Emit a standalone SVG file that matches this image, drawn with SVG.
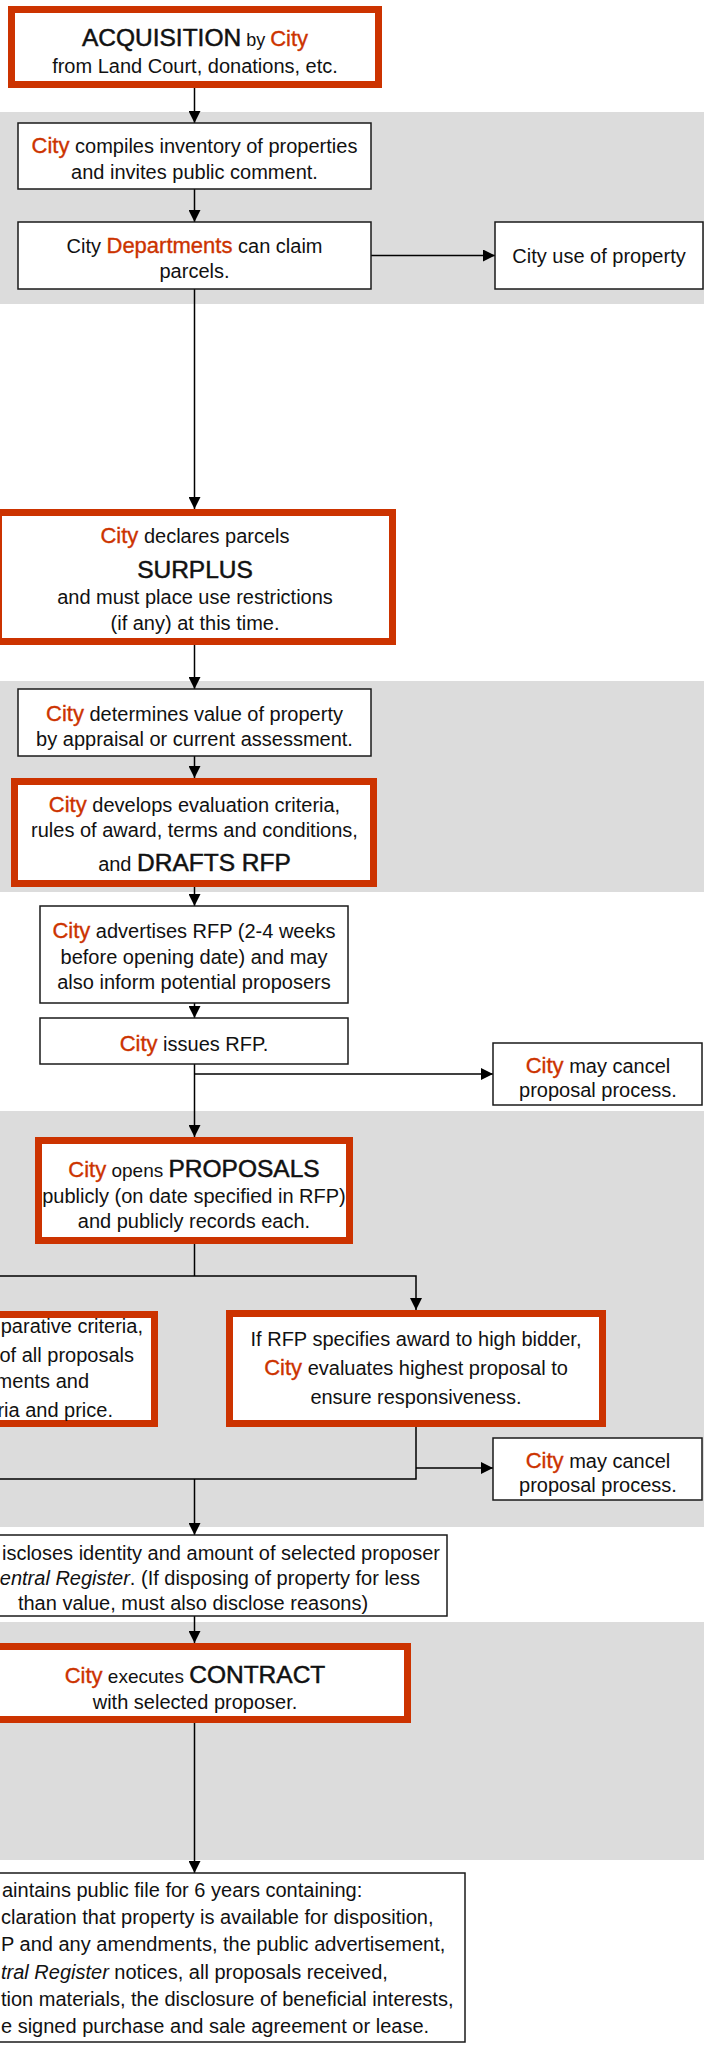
<svg xmlns="http://www.w3.org/2000/svg" width="704" height="2049" viewBox="0 0 704 2049">
<style>
.t{font-family:'Liberation Sans',Arial,sans-serif;font-size:20px;fill:#111}
.m{text-anchor:middle}
.e{text-anchor:end}
.c{fill:#cc3300;font-size:22px;stroke:#cc3300;stroke-width:0.35}
.h{font-size:24.5px;stroke:#111;stroke-width:0.5}
.i{font-style:italic}
.box{fill:#fff;stroke:#1a1a1a;stroke-width:1.5}
.rbox{fill:#fff;stroke:#cc3300;stroke-width:7}
.band{fill:#dcdcdc}
.ln{stroke:#000;stroke-width:1.5;fill:none}
</style>
<defs>
<marker id="arr" markerUnits="userSpaceOnUse" markerWidth="12" markerHeight="12" refX="12" refY="6" orient="auto">
<path d="M0,0 L12,6 L0,12 z" fill="#000"/>
</marker>
</defs>
<rect width="704" height="2049" fill="#fff"/>
<g id="bands">
<rect class="band" x="0" y="112" width="704" height="192"/>
<rect class="band" x="0" y="681" width="704" height="211"/>
<rect class="band" x="0" y="1111" width="704" height="416"/>
<rect class="band" x="0" y="1622" width="704" height="238"/>
</g>
<g id="connectors">
<path class="ln" d="M194.5,88 V123" marker-end="url(#arr)"/>
<path class="ln" d="M194.5,189 V222" marker-end="url(#arr)"/>
<path class="ln" d="M371,255.5 H495" marker-end="url(#arr)"/>
<path class="ln" d="M194.5,289 V509" marker-end="url(#arr)"/>
<path class="ln" d="M194.5,645 V689" marker-end="url(#arr)"/>
<path class="ln" d="M194.5,756 V778" marker-end="url(#arr)"/>
<path class="ln" d="M194.5,887 V906" marker-end="url(#arr)"/>
<path class="ln" d="M194.5,1003 V1018" marker-end="url(#arr)"/>
<path class="ln" d="M194.5,1064 V1137" marker-end="url(#arr)"/>
<path class="ln" d="M194.5,1074 H493" marker-end="url(#arr)"/>
<path class="ln" d="M194.5,1244 V1276"/>
<path class="ln" d="M-10,1276 H416 V1310" marker-end="url(#arr)"/>
<path class="ln" d="M416,1427 V1479 H-10"/>
<path class="ln" d="M416,1468 H493" marker-end="url(#arr)"/>
<path class="ln" d="M194.5,1479 V1535" marker-end="url(#arr)"/>
<path class="ln" d="M194.5,1616 V1643" marker-end="url(#arr)"/>
<path class="ln" d="M194.5,1723 V1873" marker-end="url(#arr)"/>
</g>
<g id="acquisition">
<rect class="rbox" x="11.5" y="9.5" width="367" height="75"/>
<text class="t m" x="195" y="46"><tspan class="h">ACQUISITION</tspan><tspan font-size="18"> by </tspan><tspan class="c" font-size="23">City</tspan></text>
<text class="t m" x="195" y="73">from Land Court, donations, etc.</text>
</g>
<g id="inventory">
<rect class="box" x="18" y="123" width="353" height="66"/>
<text class="t m" x="194.5" y="153"><tspan class="c">City</tspan> compiles inventory of properties</text>
<text class="t m" x="194.5" y="179">and invites public comment.</text>
</g>
<g id="departments">
<rect class="box" x="18" y="222" width="353" height="67"/>
<text class="t m" x="194.5" y="253">City <tspan class="c" font-size="24">Departments</tspan> can claim</text>
<text class="t m" x="194.5" y="278">parcels.</text>
</g>
<g id="city-use">
<rect class="box" x="495" y="222" width="208" height="67"/>
<text class="t m" x="599" y="263">City use of property</text>
</g>
<g id="surplus">
<rect class="rbox" x="-1.5" y="512.5" width="394" height="129"/>
<text class="t m" x="195" y="543"><tspan class="c">City</tspan> declares parcels</text>
<text class="t m h" x="195" y="578">SURPLUS</text>
<text class="t m" x="195" y="604">and must place use restrictions</text>
<text class="t m" x="195" y="630">(if any) at this time.</text>
</g>
<g id="value">
<rect class="box" x="18" y="689" width="353" height="67"/>
<text class="t m" x="194.5" y="721"><tspan class="c">City</tspan> determines value of property</text>
<text class="t m" x="194.5" y="746">by appraisal or current assessment.</text>
</g>
<g id="drafts-rfp">
<rect class="rbox" x="14.5" y="781.5" width="359" height="102"/>
<text class="t m" x="194.5" y="812"><tspan class="c">City</tspan> develops evaluation criteria,</text>
<text class="t m" x="194.5" y="837">rules of award, terms and conditions,</text>
<text class="t m" x="194.5" y="871">and <tspan class="h">DRAFTS RFP</tspan></text>
</g>
<g id="advertises">
<rect class="box" x="40" y="906" width="308" height="97"/>
<text class="t m" x="194" y="938"><tspan class="c">City</tspan> advertises RFP (2-4 weeks</text>
<text class="t m" x="194" y="964">before opening date) and may</text>
<text class="t m" x="194" y="989">also inform potential proposers</text>
</g>
<g id="issues">
<rect class="box" x="40" y="1018" width="308" height="46"/>
<text class="t m" x="194" y="1051"><tspan class="c">City</tspan> issues RFP.</text>
</g>
<g id="cancel-1">
<rect class="box" x="493" y="1043" width="209" height="62"/>
<text class="t m" x="598" y="1073"><tspan class="c">City</tspan> may cancel</text>
<text class="t m" x="598" y="1097">proposal process.</text>
</g>
<g id="proposals">
<rect class="rbox" x="38.5" y="1140.5" width="311" height="100"/>
<text class="t m" x="194" y="1177"><tspan class="c">City</tspan><tspan font-size="19"> opens </tspan><tspan class="h">PROPOSALS</tspan></text>
<text class="t m" x="194" y="1203">publicly (on date specified in RFP)</text>
<text class="t m" x="194" y="1228">and publicly records each.</text>
</g>
<g id="comparative">
<rect class="rbox" x="-20" y="1314.5" width="174.5" height="109"/>
<text class="t e" x="143" y="1333">parative criteria,</text>
<text class="t e" x="134" y="1362">of all proposals</text>
<text class="t e" x="89" y="1388">ments and</text>
<text class="t e" x="113" y="1417">ria and price.</text>
</g>
<g id="high-bidder">
<rect class="rbox" x="229.5" y="1313.5" width="373" height="110"/>
<text class="t m" x="416" y="1346">If RFP specifies award to high bidder,</text>
<text class="t m" x="416" y="1375"><tspan class="c">City</tspan> evaluates highest proposal to</text>
<text class="t m" x="416" y="1404">ensure responsiveness.</text>
</g>
<g id="cancel-2">
<rect class="box" x="493" y="1438" width="209" height="62"/>
<text class="t m" x="598" y="1468"><tspan class="c">City</tspan> may cancel</text>
<text class="t m" x="598" y="1492">proposal process.</text>
</g>
<g id="discloses">
<rect class="box" x="-61" y="1535" width="508" height="81"/>
<text class="t e" x="440" y="1560">iscloses identity and amount of selected proposer</text>
<text class="t e" x="420" y="1585"><tspan class="i">entral Register</tspan>. (If disposing of property for less</text>
<text class="t m" x="193" y="1610">than value, must also disclose reasons)</text>
</g>
<g id="contract">
<rect class="rbox" x="-17.5" y="1646.5" width="425" height="73"/>
<text class="t m" x="195" y="1683"><tspan class="c">City</tspan><tspan font-size="19"> executes </tspan><tspan class="h">CONTRACT</tspan></text>
<text class="t m" x="195" y="1709">with selected proposer.</text>
</g>
<g id="public-file">
<rect class="box" x="-40" y="1873" width="505" height="169"/>
<text class="t" x="2" y="1897">aintains public file for 6 years containing:</text>
<text class="t" x="1" y="1924">claration that property is available for disposition,</text>
<text class="t" x="1" y="1951">P and any amendments, the public advertisement,</text>
<text class="t" x="1" y="1979"><tspan class="i">tral Register</tspan> notices, all proposals received,</text>
<text class="t" x="1" y="2006">tion materials, the disclosure of beneficial interests,</text>
<text class="t" x="1" y="2033">e signed purchase and sale agreement or lease.</text>
</g>
</svg>
